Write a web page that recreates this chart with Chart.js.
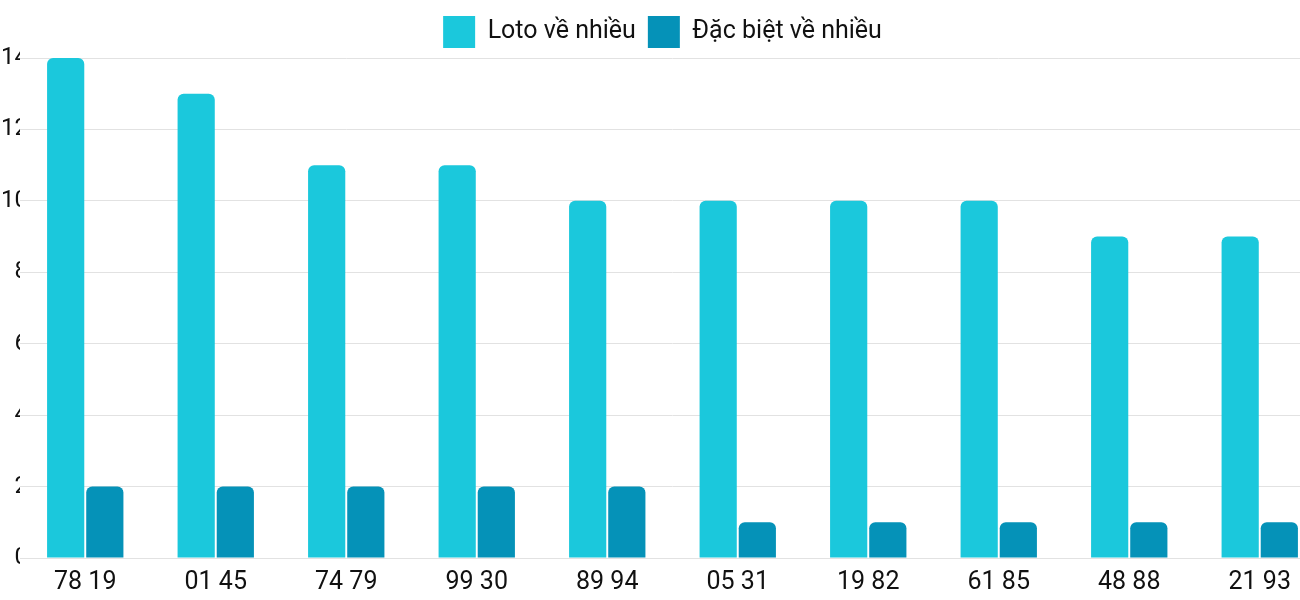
<!DOCTYPE html>
<html>
<head>
<meta charset="utf-8">
<script src="https://cdn.jsdelivr.net/npm/chart.js"></script>
<style>
  html, body { margin: 0; padding: 0; background: #fff; overflow: hidden; }
  #wrap { width: 1325px; height: 600px; }
</style>
</head>
<body>
<div id="wrap"><canvas id="chart"></canvas></div>
<script>
const labels = ['78 19', '01 45', '74 79', '99 30', '89 94', '05 31', '19 82', '61 85', '48 88', '21 93'];
const lotoValues = [14, 13, 11, 11, 10, 10, 10, 10, 9, 9];
const dacBietValues = [2, 2, 2, 2, 2, 1, 1, 1, 1, 1];

Chart.defaults.font.family = 'Roboto, sans-serif';
Chart.defaults.color = '#111';

new Chart(document.getElementById('chart'), {
    type: 'bar',
    data: {
        labels: labels,
        datasets: [{
            label: 'Loto về nhiều',
            data: lotoValues,
            backgroundColor: '#1bc8dc',
            borderRadius: { topLeft: 6, topRight: 6 },
            borderSkipped: 'bottom',
            categoryPercentage: 0.6,
            barPercentage: 0.95
        }, {
            label: 'Đặc biệt về nhiều',
            data: dacBietValues,
            backgroundColor: '#0592b8',
            borderRadius: { topLeft: 6, topRight: 6 },
            borderSkipped: 'bottom',
            categoryPercentage: 0.6,
            barPercentage: 0.95
        }]
    },
    options: {
        responsive: true,
        maintainAspectRatio: false,
        animation: false,
        layout: { padding: { left: 0, right: 0, top: 4, bottom: 0 } },
        plugins: {
            legend: {
                labels: {
                    font: { size: 25 },
                    boxWidth: 32,
                    boxHeight: 32,
                    padding: 12
                }
            },
            tooltip: { enabled: false }
        },
        scales: {
            y: {
                beginAtZero: true,
                max: 14,
                ticks: { stepSize: 2, font: { size: 24 }, padding: -8 },
                grid: { color: '#e2e2e2', drawTicks: false },
                border: { display: false },
                afterFit: function(axis) { axis.width = 20; }
            },
            x: {
                grid: { display: false },
                ticks: { font: { size: 25 }, padding: 2 },
                border: { color: '#e2e2e2' }
            }
        }
    }
});
</script>
</body>
</html>
